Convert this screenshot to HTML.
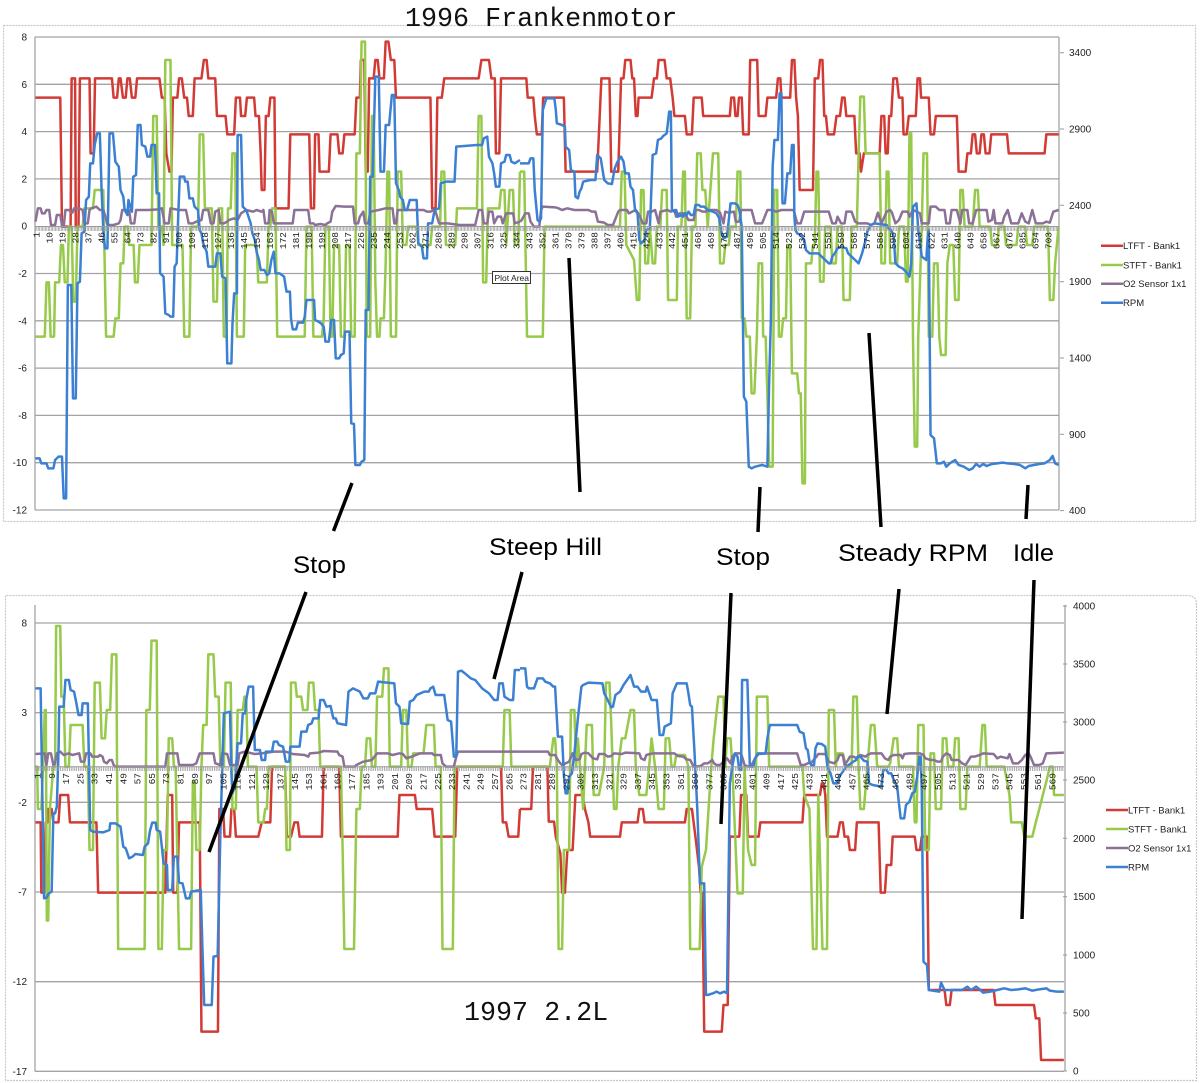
<!DOCTYPE html>
<html><head><meta charset="utf-8"><style>
html,body{margin:0;padding:0;background:#fff;}
svg{display:block;}
.ax{font-family:"Liberation Sans",sans-serif;font-size:10px;fill:#222;}
.xl{font-family:"Liberation Mono",monospace;font-size:9.5px;fill:#222;}
.lg{font-family:"Liberation Sans",sans-serif;font-size:9.5px;fill:#222;}
.an{font-family:"Liberation Sans",sans-serif;font-size:24.5px;fill:#000;}
.ttl{font-family:"Liberation Mono",monospace;font-size:26.7px;fill:#111;}
.s{fill:none;stroke-width:2.5;stroke-linejoin:round;vector-effect:non-scaling-stroke;}
.r{stroke:#d23b35;} .g{stroke:#97c94a;} .p{stroke:#8b7196;} .b{stroke:#3b80d2;}
</style></head><body>
<svg width="1200" height="1083" viewBox="0 0 1200 1083" xmlns="http://www.w3.org/2000/svg">
<rect width="1200" height="1083" fill="#fff"/>

<!-- ============ TOP CHART ============ -->
<rect x="3.5" y="25.5" width="1192" height="496" fill="none" stroke="#c8c8c8" stroke-width="1.2" stroke-dasharray="2 1"/>
<text class="ttl" x="405" y="26">1996 Frankenmotor</text>

<g stroke="#a3a3a3" stroke-width="1.3">
<line x1="35" y1="37" x2="1059" y2="37"/>
<line x1="35" y1="84.3" x2="1059" y2="84.3"/>
<line x1="35" y1="131.6" x2="1059" y2="131.6"/>
<line x1="35" y1="178.9" x2="1059" y2="178.9"/>
<line x1="35" y1="273.5" x2="1059" y2="273.5"/>
<line x1="35" y1="320.8" x2="1059" y2="320.8"/>
<line x1="35" y1="368.1" x2="1059" y2="368.1"/>
<line x1="35" y1="415.4" x2="1059" y2="415.4"/>
<line x1="35" y1="462.7" x2="1059" y2="462.7"/>
<line x1="35" y1="510" x2="1059" y2="510"/>
<line x1="35" y1="37" x2="35" y2="510"/>
<line x1="1059" y1="37" x2="1059" y2="510"/>
</g>
<g stroke="#999" stroke-width="1">
<line x1="1060" y1="52.7" x2="1064" y2="52.7"/><line x1="1060" y1="129" x2="1064" y2="129"/>
<line x1="1060" y1="205.3" x2="1064" y2="205.3"/><line x1="1060" y1="281.7" x2="1064" y2="281.7"/>
<line x1="1060" y1="358" x2="1064" y2="358"/><line x1="1060" y1="434.3" x2="1064" y2="434.3"/>
<line x1="1060" y1="510.6" x2="1064" y2="510.6"/>
</g>
<g class="ax" text-anchor="end">
<text x="27" y="40.5">8</text><text x="27" y="87.8">6</text><text x="27" y="135.1">4</text>
<text x="27" y="182.4">2</text><text x="27" y="229.7">0</text><text x="27" y="277">-2</text>
<text x="27" y="324.3">-4</text><text x="27" y="371.6">-6</text><text x="27" y="418.9">-8</text>
<text x="27" y="466.2">-10</text><text x="27" y="513.5">-12</text>
</g>
<g class="ax">
<text x="1069" y="56.2">3400</text><text x="1069" y="132.5">2900</text><text x="1069" y="208.8">2400</text>
<text x="1069" y="285.2">1900</text><text x="1069" y="361.5">1400</text><text x="1069" y="437.8">900</text>
<text x="1069" y="514.1">400</text>
</g>

<!-- top series -->
<g transform="translate(0,30) scale(0.34435,0.33333)">
<polyline class="s r" points="103,203 175,203 180,590 205,590 208,145 218,145 220,590 228,590 232,145 260,145 263,370 272,370 276,145 325,145 330,203 340,203 345,145 350,145 357,203 365,203 370,145 377,145 383,203 393,203 398,145 463,145 470,203 478,203 483,370 492,425 498,425 502,203 515,203 520,145 528,145 535,203 543,203 548,258 560,258 565,145 585,145 592,90 600,90 605,145 625,145 630,258 655,258 660,313 680,313 685,203 697,203 700,258 712,258 717,203 738,203 742,258 752,258 757,370 760,480 768,480 772,258 780,258 785,203 797,203 800,535 838,535 843,313 898,313 903,535 912,535 915,313 925,313 928,425 955,425 960,313 980,313 985,370 995,370 1000,313 1030,313 1035,203 1045,203 1048,90 1058,90 1062,425 1068,425 1072,145 1085,145 1090,90 1097,90 1102,145 1115,145 1120,35 1128,35 1135,90 1145,90 1150,203 1250,203 1255,535 1265,535 1270,203 1283,203 1290,145 1390,145 1398,90 1420,90 1427,145 1437,145 1440,370 1450,370 1455,145 1510,145"/>
<polyline class="s g" points="103,920 130,920 135,757 142,757 147,920 157,920 160,757 172,757 177,645 183,645 188,757 196,757 200,590 208,590 213,815 220,815 225,590 240,590 245,535 270,535 275,480 300,480 308,920 330,920 335,865 345,865 350,700 358,700 362,590 372,590 375,645 388,645 392,757 400,757 405,645 440,645 445,258 455,258 460,590 470,590 475,645 480,90 495,90 500,645 530,645 535,920 550,920 555,590 575,590 580,313 590,313 595,535 615,535 620,815 630,815 635,535 645,535 650,920 658,920 662,535 670,535 675,370 683,370 688,920 708,920 712,645 745,645 750,757 775,757 780,590 785,590 790,535 800,535 805,920 885,920 890,590 905,590 910,920 935,920 940,865 945,590 955,590 960,920 965,920 970,645 985,645 990,920 1000,920 1005,645 1015,645 1020,920 1030,920 1035,370 1045,370 1050,35 1060,35 1065,920 1075,920 1080,258 1085,258 1090,757 1095,920 1102,920 1105,865 1115,865 1120,700 1125,425 1130,425 1135,920 1150,920 1155,425 1165,425 1170,645 1180,645 1185,590 1210,590 1215,645 1250,645 1255,590 1278,590 1282,425 1290,425 1295,645 1322,645 1327,535 1385,535 1390,258 1398,258 1403,757 1412,757 1417,535 1450,535 1455,480 1465,480 1470,645 1480,480 1490,480 1495,645 1505,645 1510,425"/>
<polyline class="s p" points="103,575 110,535 118,535 122,550 130,550 135,540 143,540 148,585 160,585 165,555 175,555 180,585 185,590 190,540 200,540 205,545 210,548 215,535 230,535 240,540 245,580 255,580 260,540 265,535 280,530 290,540 300,540 305,555 312,585 330,585 345,580 350,570 355,540 375,540 380,580 390,580 395,540 430,540 460,538 470,535 478,580 490,580 495,535 520,540 540,540 548,580 560,580 570,575 585,570 590,540 605,540 612,580 620,580 625,545 635,540 640,580 650,580 660,575 665,570 680,565 690,570 700,550 715,540 735,545 745,540 760,545 765,540 770,580 780,580 783,540 790,545 795,580 850,580 855,540 895,540 900,580 910,580 915,585 930,582 945,585 950,580 960,575 965,545 975,528 1000,530 1025,530 1030,580 1040,580 1045,560 1055,545 1060,580 1070,580 1075,545 1100,540 1120,535 1140,535 1145,580 1150,580 1155,540 1200,540 1230,540 1240,545 1250,545 1258,540 1265,545 1275,580 1300,580 1335,585 1380,585 1390,540 1400,540 1405,580 1415,580 1420,545 1430,545 1435,580 1445,560 1455,560 1460,580 1470,550 1490,550 1495,580 1510,575"/>
<polyline class="s b" points="103,1285 115,1285 120,1300 135,1300 140,1315 155,1315 160,1290 170,1280 180,1280 185,1405 192,1405 197,765 207,765 212,1105 220,1105 225,760 232,755 237,610 245,605 250,510 258,500 262,400 270,400 275,345 282,310 290,310 295,480 300,600 305,655 312,655 318,310 328,310 335,395 345,410 350,480 358,500 362,540 370,555 373,510 383,545 387,440 395,435 400,285 408,285 412,345 422,350 428,380 436,380 440,345 450,345 455,490 462,490 465,730 475,740 480,850 490,855 495,860 503,860 507,710 513,700 518,545 522,440 535,440 538,455 545,455 550,505 560,505 565,530 575,540 580,600 585,610 590,640 600,665 605,710 625,710 630,670 640,670 645,740 655,745 660,1000 672,1000 675,885 680,790 688,790 690,315 700,315 705,530 715,540 720,555 728,580 733,610 740,630 745,665 752,690 757,720 768,720 775,735 782,730 788,690 795,665 800,730 812,730 825,740 832,785 842,785 845,865 850,898 860,898 865,878 880,878 885,860 890,810 912,810 915,870 925,875 932,880 940,890 945,935 955,935 962,870 970,870 975,985 985,985 990,975 998,970 1002,905 1015,905 1020,1180 1028,1182 1032,1305 1045,1305 1050,1295 1058,1290 1062,840 1070,840 1075,440 1082,440 1090,140 1100,140 1105,425 1115,425 1120,285 1130,285 1138,195 1145,195 1150,460 1158,480 1162,500 1170,510 1175,540 1182,540 1190,510 1210,510 1215,640 1225,650 1230,685 1240,685 1243,580 1255,580 1262,540 1275,535 1280,460 1295,455 1320,455 1325,350 1385,345 1400,345 1405,325 1415,320 1420,380 1430,400 1435,430 1440,470 1450,470 1455,400 1465,395 1470,375 1480,375 1485,395 1495,400 1510,390"/>
</g>
<g transform="translate(520,30) scale(0.35088,0.33333)">
<polyline class="s r" points="0,145 18,145 22,203 38,203 42,258 48,313 62,313 66,203 125,203 130,425 220,425 232,145 255,145 260,425 280,425 288,145 295,145 300,90 315,90 320,145 325,145 330,258 335,258 338,203 375,203 382,145 390,145 395,90 412,90 418,145 428,145 435,203 440,258 470,258 475,313 490,313 495,203 518,203 522,258 598,258 602,203 610,203 614,258 620,258 624,203 632,203 636,313 652,313 656,90 676,90 680,258 700,258 705,203 730,203 735,145 742,145 745,203 770,203 775,90 782,90 787,203 792,258 797,480 835,480 840,145 850,145 855,90 862,90 867,258 872,258 877,313 895,313 902,258 912,258 918,203 925,203 930,258 953,258 958,370 968,370 972,425 980,370 1025,370 1030,258 1038,258 1042,370 1048,370 1052,258 1058,258 1064,145 1074,145 1080,203 1090,203 1093,313 1102,313 1108,258 1128,258 1133,145 1140,145 1143,203 1165,203 1170,313 1180,313 1185,258 1245,258 1250,425 1270,425 1275,370 1285,370 1290,313 1297,313 1302,370 1310,370 1315,313 1322,313 1327,370 1338,370 1343,313 1388,313 1393,370 1495,370 1500,313 1535,313"/>
<polyline class="s g" points="0,425 12,425 20,920 65,920 70,590 285,590 290,425 298,425 303,645 325,690 333,810 340,810 345,480 352,480 357,700 365,700 370,590 378,700 385,700 390,590 400,590 405,480 418,480 422,810 447,810 450,590 460,590 465,425 470,425 475,865 485,865 490,590 500,590 505,370 515,370 520,480 528,480 535,590 550,370 565,370 570,700 580,700 585,645 595,645 600,590 615,590 620,425 628,425 632,865 640,865 645,920 655,920 660,1090 668,1090 675,920 680,700 690,700 693,920 700,920 705,1090 710,1310 720,1310 725,480 733,480 738,920 745,920 750,865 758,865 762,645 770,645 775,1030 790,1030 795,1090 800,1090 805,1360 812,1360 815,700 830,700 835,645 840,645 845,425 850,425 855,755 865,755 870,590 885,590 890,700 900,700 905,590 918,590 922,810 940,810 945,590 960,590 965,370 970,200 980,200 985,370 1025,370 1030,700 1040,700 1045,425 1050,425 1055,700 1075,700 1080,590 1095,590 1100,755 1105,755 1110,310 1115,310 1120,920 1125,1250 1132,1250 1135,920 1145,590 1150,370 1160,370 1165,920 1175,920 1180,700 1190,700 1195,920 1200,975 1213,975 1218,700 1225,645 1235,645 1240,810 1250,810 1255,480 1262,480 1267,590 1290,590 1297,480 1305,480 1310,590 1340,590 1345,645 1360,645 1365,590 1380,590 1385,645 1415,645 1420,590 1440,590 1445,645 1460,645 1465,590 1505,590 1510,810 1520,810 1525,700 1535,590"/>
<polyline class="s p" points="0,575 5,570 15,550 25,550 30,575 40,590 55,590 60,540 65,530 100,532 110,535 120,540 135,535 155,540 195,540 205,545 215,545 222,575 240,578 250,585 265,585 280,545 285,540 305,540 310,550 320,545 330,540 340,555 350,580 360,580 365,545 375,545 385,540 395,580 400,545 420,540 430,545 440,540 445,560 455,550 470,550 480,570 495,570 500,540 510,540 520,545 530,545 540,540 560,540 570,548 580,580 585,545 595,548 610,545 615,575 625,575 630,540 660,540 670,580 690,580 705,540 720,540 730,545 745,540 780,540 790,580 800,580 810,545 880,545 890,580 900,580 905,560 915,580 925,580 930,545 945,545 955,575 965,580 990,580 1000,585 1010,580 1020,548 1030,580 1045,545 1055,540 1060,548 1070,580 1080,570 1090,545 1105,545 1110,560 1120,540 1130,545 1140,550 1145,580 1165,580 1170,530 1185,530 1195,540 1210,540 1215,580 1225,580 1230,540 1245,540 1255,580 1260,540 1275,540 1280,580 1290,580 1300,540 1330,540 1335,575 1345,570 1350,540 1355,580 1375,580 1380,560 1390,540 1400,580 1420,580 1430,550 1440,575 1450,580 1460,540 1470,580 1490,580 1500,575 1510,578 1520,545 1535,540"/>
<polyline class="s b" points="0,400 25,400 30,385 38,385 42,480 50,570 55,575 60,565 65,240 75,205 98,205 102,240 105,280 120,285 128,290 130,350 140,360 145,420 155,425 158,500 165,505 170,485 175,475 180,455 200,450 215,450 220,375 230,385 240,450 250,460 262,462 270,415 278,395 288,380 295,395 300,430 310,430 315,470 322,480 328,540 335,550 340,630 345,640 355,630 360,600 370,595 373,520 378,375 388,370 393,330 403,325 408,318 418,310 422,275 425,245 430,245 433,540 440,545 445,540 450,560 460,555 465,560 470,550 475,555 480,545 487,555 495,555 500,525 510,525 515,530 525,530 535,540 550,545 560,550 568,565 575,610 580,625 590,620 600,520 612,520 620,525 625,540 632,590 638,1100 645,1115 652,1310 660,1315 670,1310 690,1305 705,1310 710,1060 715,870 720,410 725,330 735,330 740,190 745,190 748,520 755,520 762,430 770,430 775,345 780,345 782,560 785,600 790,610 800,615 810,630 815,660 825,670 850,670 860,680 870,690 880,700 885,700 890,680 900,665 905,655 915,650 930,655 935,670 945,680 955,690 965,700 970,685 975,670 985,630 990,605 1000,585 1010,580 1045,585 1050,595 1058,600 1065,620 1070,700 1080,710 1090,715 1100,725 1110,740 1115,700 1120,530 1130,520 1135,600 1145,680 1158,690 1162,620 1165,600 1170,1215 1180,1225 1188,1300 1200,1300 1208,1295 1215,1310 1225,1300 1240,1290 1250,1305 1265,1310 1280,1320 1290,1315 1300,1302 1310,1310 1320,1302 1330,1308 1345,1302 1360,1300 1375,1298 1390,1300 1410,1302 1425,1305 1440,1315 1450,1308 1465,1305 1480,1302 1495,1300 1510,1290 1518,1278 1525,1300 1535,1305"/>
</g>

<!-- top x axis -->
<line x1="35" y1="226.5" x2="1059" y2="226.5" stroke="#999" stroke-width="1"/>
<line x1="35" y1="229" x2="1059" y2="229" stroke="#9a9a9a" stroke-width="4" stroke-dasharray="0.7 0.74"/>
<g class="xl" transform="rotate(-90)" text-anchor="end">
<text x="-232" y="39.5">1</text><text x="-232" y="52.5">10</text><text x="-232" y="65.4">19</text><text x="-232" y="78.4">28</text><text x="-232" y="91.4">37</text><text x="-232" y="104.4">46</text><text x="-232" y="117.3">55</text><text x="-232" y="130.3">64</text><text x="-232" y="143.3">73</text><text x="-232" y="156.3">82</text><text x="-232" y="169.2">91</text><text x="-232" y="182.2">100</text><text x="-232" y="195.2">109</text><text x="-232" y="208.2">118</text><text x="-232" y="221.1">127</text><text x="-232" y="234.1">136</text><text x="-232" y="247.1">145</text><text x="-232" y="260.1">154</text><text x="-232" y="273">163</text><text x="-232" y="286">172</text><text x="-232" y="299">181</text><text x="-232" y="312">190</text><text x="-232" y="324.9">199</text><text x="-232" y="337.9">208</text><text x="-232" y="350.9">217</text><text x="-232" y="363.9">226</text><text x="-232" y="376.8">235</text><text x="-232" y="389.8">244</text><text x="-232" y="402.8">253</text><text x="-232" y="415.7">262</text><text x="-232" y="428.7">271</text><text x="-232" y="441.7">280</text><text x="-232" y="454.7">289</text><text x="-232" y="467.6">298</text><text x="-232" y="480.6">307</text><text x="-232" y="493.6">316</text><text x="-232" y="506.6">325</text><text x="-232" y="519.5">334</text><text x="-232" y="532.5">343</text><text x="-232" y="545.5">352</text><text x="-232" y="558.5">361</text><text x="-232" y="571.4">370</text><text x="-232" y="584.4">379</text><text x="-232" y="597.4">388</text><text x="-232" y="610.4">397</text><text x="-232" y="623.3">406</text><text x="-232" y="636.3">415</text><text x="-232" y="649.3">424</text><text x="-232" y="662.3">433</text><text x="-232" y="675.2">442</text><text x="-232" y="688.2">451</text><text x="-232" y="701.2">460</text><text x="-232" y="714.1">469</text><text x="-232" y="727.1">478</text><text x="-232" y="740.1">487</text><text x="-232" y="753.1">496</text><text x="-232" y="766">505</text><text x="-232" y="779">514</text><text x="-232" y="792">523</text><text x="-232" y="805">532</text><text x="-232" y="817.9">541</text><text x="-232" y="830.9">550</text><text x="-232" y="843.9">559</text><text x="-232" y="856.9">568</text><text x="-232" y="869.8">577</text><text x="-232" y="882.8">586</text><text x="-232" y="895.8">595</text><text x="-232" y="908.8">604</text><text x="-232" y="921.7">613</text><text x="-232" y="934.7">622</text><text x="-232" y="947.7">631</text><text x="-232" y="960.7">640</text><text x="-232" y="973.6">649</text><text x="-232" y="986.6">658</text><text x="-232" y="999.6">667</text><text x="-232" y="1012.6">676</text><text x="-232" y="1025.5">685</text><text x="-232" y="1038.5">694</text><text x="-232" y="1051.5">703</text>
</g>

<!-- Plot Area tooltip -->
<rect x="492.5" y="271.5" width="38" height="12" fill="#fff" stroke="#333" stroke-width="1"/>
<text x="494.5" y="281" font-family="Liberation Sans, sans-serif" font-size="8.5" fill="#222">Plot Area</text>

<!-- top legend -->
<g stroke-width="2.5">
<line x1="1101" y1="245.7" x2="1123" y2="245.7" stroke="#d23b35"/>
<line x1="1101" y1="265" x2="1123" y2="265" stroke="#97c94a"/>
<line x1="1101" y1="283.7" x2="1123" y2="283.7" stroke="#8b7196"/>
<line x1="1101" y1="302.7" x2="1123" y2="302.7" stroke="#3b80d2"/>
</g>
<g class="lg">
<text x="1123" y="249">LTFT - Bank1</text><text x="1123" y="268.3">STFT - Bank1</text>
<text x="1123" y="287">O2 Sensor 1x1</text><text x="1123" y="306">RPM</text>
</g>

<!-- ============ BOTTOM CHART ============ -->
<path d="M5.5,1080.5 V595.5 H1187 Q1196.5,595.5 1196.5,604 V1080.5 Z" fill="none" stroke="#c8c8c8" stroke-width="1.2" stroke-dasharray="2 1"/>

<g stroke="#a3a3a3" stroke-width="1.3">
<line x1="35" y1="623" x2="1064" y2="623"/>
<line x1="35" y1="712.7" x2="1064" y2="712.7"/>
<line x1="35" y1="802.3" x2="1064" y2="802.3"/>
<line x1="35" y1="892" x2="1064" y2="892"/>
<line x1="35" y1="981.7" x2="1064" y2="981.7"/>
<line x1="35" y1="1071.3" x2="1064" y2="1071.3"/>
<line x1="35" y1="605" x2="35" y2="1071.3"/>
<line x1="1065" y1="605" x2="1065" y2="1071.3"/>
</g>
<g stroke="#999" stroke-width="1">
<line x1="1063" y1="606" x2="1067" y2="606"/><line x1="1063" y1="664" x2="1067" y2="664"/>
<line x1="1063" y1="722" x2="1067" y2="722"/><line x1="1063" y1="780" x2="1067" y2="780"/>
<line x1="1063" y1="838.3" x2="1067" y2="838.3"/><line x1="1063" y1="896.7" x2="1067" y2="896.7"/>
<line x1="1063" y1="955" x2="1067" y2="955"/><line x1="1063" y1="1013" x2="1067" y2="1013"/>
<line x1="1063" y1="1071" x2="1067" y2="1071"/>
</g>
<g class="ax" text-anchor="end">
<text x="27" y="626.5">8</text><text x="27" y="716.2">3</text><text x="27" y="805.8">-2</text>
<text x="27" y="895.5">-7</text><text x="27" y="985.2">-12</text><text x="27" y="1074.8">-17</text>
</g>
<g class="ax">
<text x="1073" y="609.5">4000</text><text x="1073" y="667.5">3500</text><text x="1073" y="725.5">3000</text>
<text x="1073" y="783.5">2500</text><text x="1073" y="841.8">2000</text><text x="1073" y="900.2">1500</text>
<text x="1073" y="958.5">1000</text><text x="1073" y="1016.5">500</text><text x="1073" y="1074.5">0</text>
</g>

<!-- bottom series -->
<g transform="translate(0,600) scale(0.34435,0.33333)">
<polyline class="s r" points="103,667 118,667 120,878 128,878 133,667 138,667 140,627 150,627 155,667 170,667 175,585 198,585 203,667 280,667 285,878 480,878 487,585 500,585 503,878 515,878 520,667 580,667 585,1295 633,1295 637,627 648,627 652,710 668,710 672,627 680,627 685,710 750,710 760,667 785,667 790,500 828,500 833,710 845,710 855,667 865,667 870,710 935,710 940,500 985,500 990,710 1155,710 1160,585 1205,585 1210,627 1255,627 1262,710 1322,710 1328,500 1455,500 1460,667 1470,667 1477,710 1505,710 1510,627"/>
<polyline class="s g" points="103,500 108,500 110,627 120,627 125,500 130,330 133,330 136,962 140,962 145,627 155,500 160,500 163,78 175,78 178,290 185,290 190,500 200,500 205,375 240,375 245,500 255,500 260,750 270,750 275,248 290,248 295,415 305,415 310,330 320,330 325,163 338,163 343,1047 420,1047 425,330 435,330 440,122 455,122 460,1047 470,1047 475,750 485,750 490,415 500,415 505,500 510,500 520,1047 555,1047 560,545 565,545 570,750 580,750 585,500 590,375 600,375 605,163 620,163 625,290 635,290 640,500 650,500 655,248 670,248 675,627 685,627 690,330 705,330 710,290 715,290 720,500 745,500 750,667 765,667 770,627 775,627 780,500 828,500 832,750 842,750 845,248 858,248 862,290 875,290 880,330 893,330 897,248 910,248 915,330 925,330 930,500 990,500 995,750 1000,1047 1028,1047 1035,627 1045,627 1050,500 1060,500 1065,415 1075,415 1080,500 1090,500 1095,290 1110,290 1115,205 1128,205 1132,500 1165,500 1170,330 1180,330 1185,500 1195,500 1200,460 1230,460 1238,375 1260,375 1265,500 1280,500 1285,1047 1315,1047 1320,500 1460,500 1465,330 1480,330 1485,500 1510,500"/>
<polyline class="s p" points="103,462 130,460 135,495 140,460 148,460 155,495 160,490 165,460 175,455 185,465 200,460 210,465 230,460 235,485 245,485 250,460 262,460 268,470 285,470 290,465 298,470 302,485 310,490 318,480 325,480 330,495 335,500 480,500 485,460 515,460 520,495 560,495 570,490 580,460 620,460 625,490 640,495 645,460 660,462 668,495 690,495 695,460 710,455 740,462 760,460 795,455 830,455 850,462 885,465 895,470 900,460 925,458 940,453 980,455 985,465 995,470 1000,500 1030,500 1035,495 1055,485 1080,480 1095,460 1125,460 1140,465 1160,460 1170,462 1180,475 1195,470 1220,460 1255,460 1260,465 1280,465 1285,490 1295,500 1318,500 1325,470 1330,455 1510,455"/>
<polyline class="s b" points="103,265 118,265 122,530 128,895 135,893 142,880 150,875 155,640 160,640 165,620 170,450 172,320 185,320 190,240 200,240 205,270 215,275 220,300 228,345 237,345 240,310 255,310 262,690 270,695 300,697 318,690 320,670 335,670 350,680 358,740 365,745 375,775 385,770 393,762 415,765 420,740 430,730 435,695 442,668 452,668 455,690 465,695 470,740 475,790 485,795 487,870 500,870 505,770 515,770 520,848 530,850 540,895 550,895 555,875 583,870 588,1050 593,1215 615,1215 620,1070 632,1068 640,700 650,340 668,335 672,520 675,580 682,560 690,430 700,430 705,340 712,340 715,300 722,260 735,260 740,450 755,450 760,480 770,480 772,455 790,455 795,425 805,425 810,435 822,440 830,485 840,485 843,440 870,440 875,395 890,395 895,375 905,370 910,355 925,355 930,300 940,300 948,320 960,318 968,355 975,355 980,370 1005,375 1012,275 1025,265 1045,275 1055,295 1068,295 1075,280 1090,280 1098,245 1145,250 1150,310 1160,320 1165,370 1185,372 1190,305 1200,300 1210,285 1232,275 1245,275 1250,265 1258,260 1265,285 1290,285 1300,360 1310,365 1318,470 1325,470 1330,215 1340,212 1350,220 1367,235 1380,240 1400,265 1420,280 1435,300 1445,300 1450,250 1460,250 1465,290 1480,300 1490,300 1495,210 1510,210"/>
</g>
<g transform="translate(520,600) scale(0.35088,0.33333)">
<polyline class="s r" points="0,627 32,627 37,500 78,500 82,665 97,665 102,710 115,760 120,878 128,878 135,750 150,750 158,585 178,585 185,627 195,667 200,710 285,710 290,667 335,667 340,627 350,627 355,667 470,667 475,627 490,627 500,710 510,800 515,878 520,878 525,1295 575,1295 580,1215 592,1215 598,710 625,710 630,585 645,585 650,710 680,710 685,667 805,667 810,585 855,585 860,550 865,550 870,585 875,710 905,710 912,667 920,667 925,710 935,710 940,750 955,750 960,667 1022,667 1028,878 1040,878 1045,795 1058,795 1062,710 1125,710 1130,750 1140,750 1145,710 1160,710 1165,1170 1210,1170 1215,1215 1225,1215 1230,1170 1350,1170 1355,1215 1465,1215 1470,1255 1480,1255 1485,1380 1550,1380"/>
<polyline class="s g" points="0,500 85,500 95,415 100,415 105,500 110,1047 120,1047 125,750 140,750 145,330 155,330 160,500 165,415 180,627 185,500 190,375 205,375 210,585 225,585 240,500 245,248 255,248 260,370 268,627 275,627 280,500 290,415 300,415 315,330 325,330 330,500 340,585 360,585 368,500 375,415 385,500 395,627 410,627 415,415 425,415 432,500 440,500 445,465 470,465 480,500 485,1047 512,1047 518,800 530,750 545,500 552,415 565,290 580,290 585,500 590,415 600,415 605,500 620,880 635,880 640,500 650,750 660,795 670,795 675,290 705,290 710,500 805,500 810,585 825,627 835,1047 845,1047 850,585 862,1047 875,1047 880,330 895,330 900,500 905,460 920,460 930,500 945,500 950,290 960,290 965,500 970,627 980,627 990,500 1000,375 1010,375 1018,500 1050,500 1055,490 1065,415 1075,415 1080,500 1120,500 1125,667 1130,667 1135,375 1150,375 1155,750 1165,750 1170,460 1180,460 1185,627 1200,627 1205,415 1215,415 1220,500 1235,500 1240,415 1250,415 1255,627 1270,627 1275,500 1310,500 1318,375 1325,375 1330,500 1380,500 1395,585 1400,667 1430,667 1437,710 1460,710 1470,667 1480,627 1490,585 1500,545 1510,500 1518,500 1522,585 1550,585"/>
<polyline class="s p" points="0,455 80,455 85,465 100,465 108,480 115,490 120,495 130,490 140,485 150,460 160,480 170,478 175,462 185,458 195,460 208,475 220,478 225,462 240,462 250,470 260,468 268,460 290,462 300,458 340,460 345,475 355,480 360,465 370,462 380,460 440,460 450,468 465,470 475,478 485,480 495,500 500,500 515,498 525,490 535,490 548,480 553,490 560,495 570,495 580,485 590,475 600,490 605,470 615,460 630,460 640,495 650,500 660,495 670,475 680,462 710,460 790,460 800,495 810,495 820,490 830,488 845,470 850,462 870,462 880,485 895,490 905,480 910,465 920,465 925,495 935,480 940,470 950,470 960,475 970,465 985,470 990,465 1000,460 1030,460 1040,475 1050,480 1055,470 1065,465 1085,465 1090,475 1095,462 1110,460 1140,460 1150,465 1155,475 1170,480 1180,480 1190,485 1200,485 1205,470 1215,460 1225,465 1230,480 1250,480 1260,490 1270,495 1285,470 1295,470 1310,465 1320,460 1350,462 1360,475 1370,470 1390,475 1395,462 1405,490 1420,490 1430,480 1440,465 1450,460 1455,470 1465,495 1480,495 1490,490 1500,460 1550,458"/>
<polyline class="s b" points="0,205 15,205 20,260 25,265 40,265 50,235 65,235 72,245 85,250 95,260 100,260 108,410 120,410 125,525 130,580 135,580 140,530 148,520 155,460 165,355 175,260 180,255 195,248 235,250 240,280 250,300 260,322 265,320 272,285 285,275 295,255 305,240 315,225 325,260 335,260 345,275 358,275 362,260 375,300 390,300 398,405 408,405 412,380 430,370 435,280 447,250 475,250 480,280 485,315 490,320 497,450 505,620 513,850 525,850 530,1185 535,1185 550,1180 560,1175 570,1180 582,1175 590,1180 598,550 605,500 612,460 620,470 625,510 630,510 633,240 648,240 655,500 665,500 670,475 678,460 700,460 705,415 712,375 790,375 797,395 808,400 815,445 820,450 825,485 830,495 838,495 842,445 848,430 860,432 870,440 876,500 885,520 893,550 905,550 910,530 920,515 930,500 950,485 958,480 962,470 970,470 980,482 990,485 995,550 1005,555 1030,560 1035,510 1045,510 1050,520 1058,520 1065,540 1075,560 1080,610 1085,655 1095,655 1100,615 1110,605 1118,580 1125,575 1132,530 1138,470 1142,470 1145,570 1150,1085 1160,1095 1165,1170 1195,1175 1200,1148 1210,1170 1240,1170 1260,1170 1275,1160 1285,1170 1300,1160 1310,1168 1320,1178 1340,1175 1360,1170 1380,1165 1400,1170 1420,1168 1440,1165 1460,1172 1480,1168 1500,1165 1510,1172 1530,1175 1550,1175"/>
</g>

<!-- bottom x axis -->
<line x1="35" y1="766.7" x2="1064" y2="766.7" stroke="#999" stroke-width="1"/>
<line x1="35" y1="769" x2="1064" y2="769" stroke="#9a9a9a" stroke-width="4" stroke-dasharray="0.8 0.99"/>
<g class="xl" transform="rotate(-90)" text-anchor="end">
<text x="-773" y="40.5">1</text><text x="-773" y="54.8">9</text><text x="-773" y="69.1">17</text><text x="-773" y="83.4">25</text><text x="-773" y="97.7">33</text><text x="-773" y="112">41</text><text x="-773" y="126.3">49</text><text x="-773" y="140.6">57</text><text x="-773" y="154.9">65</text><text x="-773" y="169.2">73</text><text x="-773" y="183.5">81</text><text x="-773" y="197.8">89</text><text x="-773" y="212.1">97</text><text x="-773" y="226.4">105</text><text x="-773" y="240.6">113</text><text x="-773" y="254.9">121</text><text x="-773" y="269.2">129</text><text x="-773" y="283.5">137</text><text x="-773" y="297.8">145</text><text x="-773" y="312.1">153</text><text x="-773" y="326.4">161</text><text x="-773" y="340.7">169</text><text x="-773" y="355">177</text><text x="-773" y="369.3">185</text><text x="-773" y="383.6">193</text><text x="-773" y="397.9">201</text><text x="-773" y="412.2">209</text><text x="-773" y="426.5">217</text><text x="-773" y="440.8">225</text><text x="-773" y="455.1">233</text><text x="-773" y="469.4">241</text><text x="-773" y="483.7">249</text><text x="-773" y="498">257</text><text x="-773" y="512.3">265</text><text x="-773" y="526.6">273</text><text x="-773" y="540.9">281</text><text x="-773" y="555.2">289</text><text x="-773" y="569.5">297</text><text x="-773" y="583.7">305</text><text x="-773" y="598">313</text><text x="-773" y="612.3">321</text><text x="-773" y="626.6">329</text><text x="-773" y="640.9">337</text><text x="-773" y="655.2">345</text><text x="-773" y="669.5">353</text><text x="-773" y="683.8">361</text><text x="-773" y="698.1">369</text><text x="-773" y="712.4">377</text><text x="-773" y="726.7">385</text><text x="-773" y="741">393</text><text x="-773" y="755.3">401</text><text x="-773" y="769.6">409</text><text x="-773" y="783.9">417</text><text x="-773" y="798.2">425</text><text x="-773" y="812.5">433</text><text x="-773" y="826.8">441</text><text x="-773" y="841.1">449</text><text x="-773" y="855.4">457</text><text x="-773" y="869.7">465</text><text x="-773" y="884">473</text><text x="-773" y="898.3">481</text><text x="-773" y="912.6">489</text><text x="-773" y="926.8">497</text><text x="-773" y="941.1">505</text><text x="-773" y="955.4">513</text><text x="-773" y="969.7">521</text><text x="-773" y="984">529</text><text x="-773" y="998.3">537</text><text x="-773" y="1012.6">545</text><text x="-773" y="1026.9">553</text><text x="-773" y="1041.2">561</text><text x="-773" y="1055.5">569</text>
</g>

<text class="ttl" x="464" y="1020">1997 2.2L</text>

<!-- bottom legend -->
<g stroke-width="2.5">
<line x1="1106" y1="810" x2="1128" y2="810" stroke="#d23b35"/>
<line x1="1106" y1="829" x2="1128" y2="829" stroke="#97c94a"/>
<line x1="1106" y1="848" x2="1128" y2="848" stroke="#8b7196"/>
<line x1="1106" y1="867" x2="1128" y2="867" stroke="#3b80d2"/>
</g>
<g class="lg">
<text x="1128" y="813.3">LTFT - Bank1</text><text x="1128" y="832.3">STFT - Bank1</text>
<text x="1128" y="851.3">O2 Sensor 1x1</text><text x="1128" y="870.3">RPM</text>
</g>

<!-- ============ ANNOTATIONS ============ -->
<g stroke="#000" stroke-width="3.5" stroke-linecap="butt">
<line x1="352" y1="483" x2="333.5" y2="531"/>
<line x1="569" y1="258" x2="580" y2="492"/>
<line x1="760" y1="487" x2="758" y2="532"/>
<line x1="869" y1="333" x2="881" y2="527"/>
<line x1="1028" y1="485" x2="1026" y2="519"/>
<line x1="306" y1="592" x2="209" y2="852"/>
<line x1="522" y1="572" x2="494" y2="679"/>
<line x1="731" y1="593" x2="721" y2="824"/>
<line x1="899" y1="589" x2="887" y2="714"/>
<line x1="1034" y1="580" x2="1022" y2="919"/>
</g>
<g class="an">
<text x="293" y="573" textLength="53" lengthAdjust="spacingAndGlyphs">Stop</text>
<text x="489" y="555" textLength="113" lengthAdjust="spacingAndGlyphs">Steep Hill</text>
<text x="716" y="565" textLength="54" lengthAdjust="spacingAndGlyphs">Stop</text>
<text x="838" y="561" textLength="150" lengthAdjust="spacingAndGlyphs">Steady RPM</text>
<text x="1013" y="561" textLength="41" lengthAdjust="spacingAndGlyphs">Idle</text>
</g>
</svg>
</body></html>
